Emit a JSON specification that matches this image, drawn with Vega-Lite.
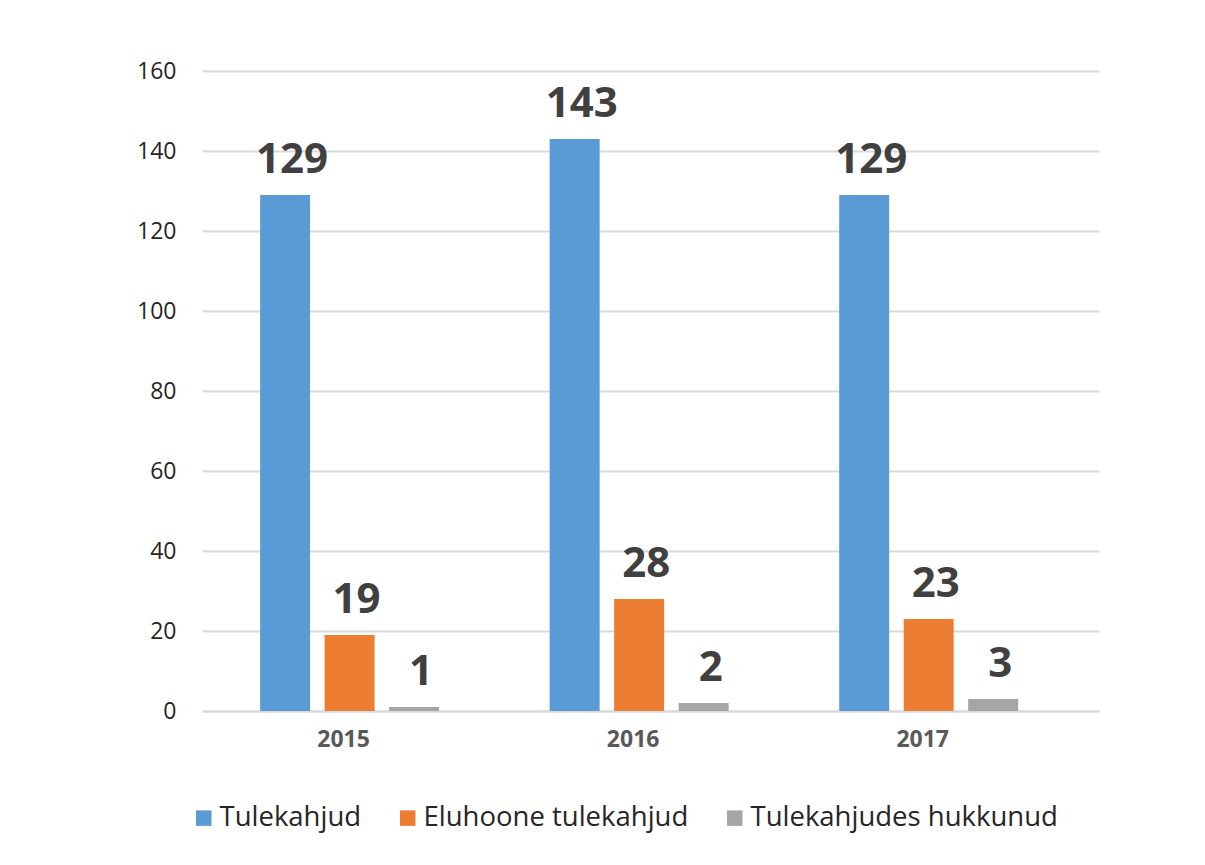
{
  "$schema": "https://vega.github.io/schema/vega-lite/v6.json",
  "width": 897,
  "height": 640,
  "autosize": {"type": "none"},
  "padding": {"left": 202, "top": 71, "right": 106, "bottom": 154},
  "background": "white",
  "data": {
    "values": [
      {"year": "2015", "series": "Tulekahjud", "value": 129},
      {"year": "2015", "series": "Eluhoone tulekahjud", "value": 19},
      {"year": "2015", "series": "Tulekahjudes hukkunud", "value": 1},
      {"year": "2016", "series": "Tulekahjud", "value": 143},
      {"year": "2016", "series": "Eluhoone tulekahjud", "value": 28},
      {"year": "2016", "series": "Tulekahjudes hukkunud", "value": 2},
      {"year": "2017", "series": "Tulekahjud", "value": 129},
      {"year": "2017", "series": "Eluhoone tulekahjud", "value": 23},
      {"year": "2017", "series": "Tulekahjudes hukkunud", "value": 3}
    ]
  },
  "encoding": {
    "x": {
      "field": "year",
      "type": "nominal",
      "scale": {"paddingInner": 0, "paddingOuter": 0.049, "align": 0.1},
      "axis": {
        "title": null,
        "labelAngle": 0,
        "domain": true,
        "domainColor": "#d9d9d9",
        "domainWidth": 2,
        "ticks": false,
        "labelFont": "Open Sans",
        "labelFontSize": 23,
        "labelFontWeight": "bold",
        "labelColor": "#595959",
        "labelPadding": 17,
        "labelOffset": -6
      }
    },
    "xOffset": {
      "field": "series",
      "type": "nominal",
      "sort": ["Tulekahjud", "Eluhoone tulekahjud", "Tulekahjudes hukkunud"],
      "scale": {"paddingInner": 0.225, "paddingOuter": 0.857}
    },
    "y": {
      "field": "value",
      "type": "quantitative",
      "scale": {"domain": [0, 160]},
      "axis": {
        "title": null,
        "values": [0, 20, 40, 60, 80, 100, 120, 140, 160],
        "grid": true,
        "gridColor": "#d9d9d9",
        "gridWidth": 2,
        "domain": false,
        "ticks": false,
        "labelFont": "Open Sans",
        "labelFontSize": 23,
        "labelColor": "#262626",
        "labelPadding": 26
      }
    }
  },
  "layer": [
    {
      "mark": {"type": "bar"},
      "encoding": {
        "color": {
          "field": "series",
          "type": "nominal",
          "scale": {
            "domain": ["Tulekahjud", "Eluhoone tulekahjud", "Tulekahjudes hukkunud"],
            "range": ["#5b9bd5", "#ed7d31", "#a5a5a5"]
          },
          "legend": {
            "title": null,
            "orient": "none",
            "direction": "horizontal",
            "legendX": -12,
            "legendY": 733,
            "labelFont": "Open Sans",
            "labelFontSize": 27.5,
            "labelColor": "#262626",
            "symbolType": "square",
            "symbolSize": 240,
            "symbolStrokeWidth": 0,
            "symbolOpacity": 1,
            "columnPadding": 32,
            "labelOffset": 2,
            "labelLimit": 500
          }
        }
      }
    },
    {
      "mark": {
        "type": "text",
        "dy": -22,
        "dx": 7,
        "baseline": "alphabetic",
        "font": "Open Sans",
        "fontSize": 42,
        "fontWeight": "bold",
        "color": "#404040"
      },
      "encoding": {"text": {"field": "value", "type": "quantitative"}}
    }
  ],
  "config": {"view": {"stroke": null}}
}
